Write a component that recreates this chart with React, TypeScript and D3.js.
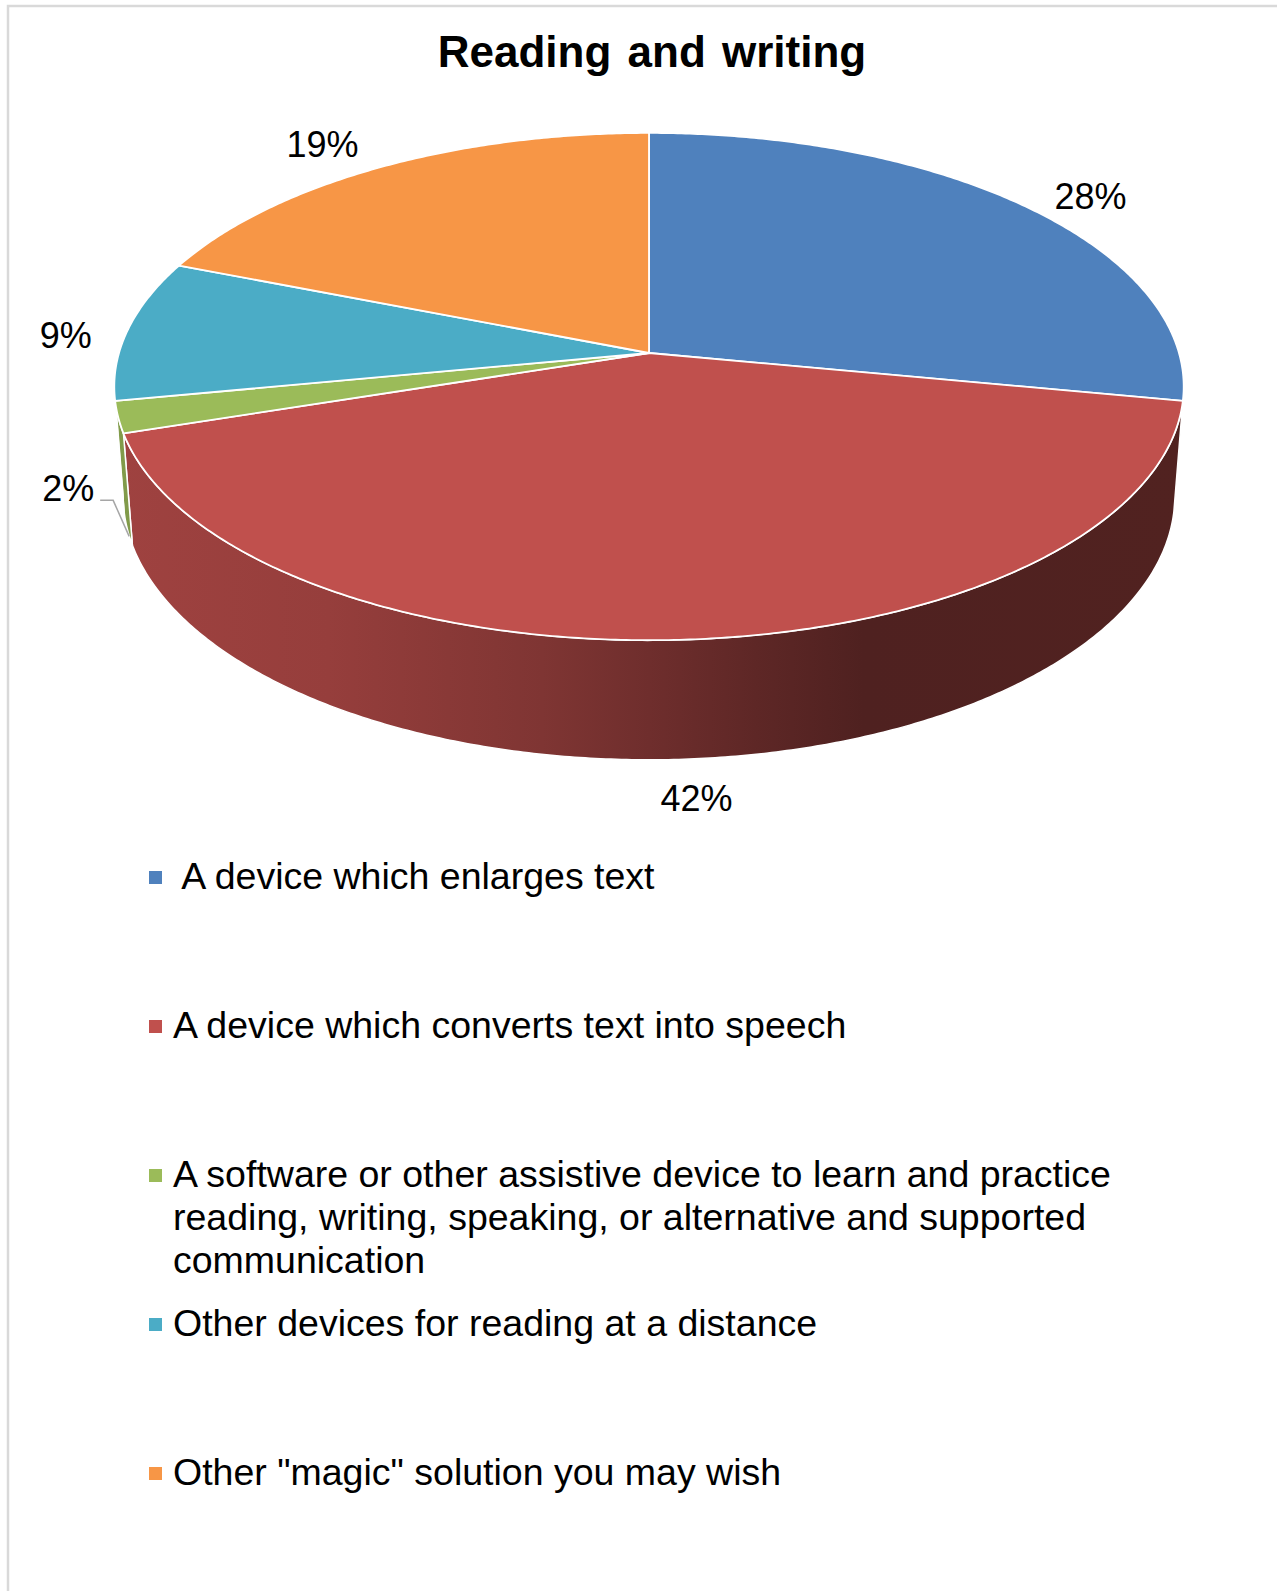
import React from "react";
import * as d3 from "d3";

// ---------- data ----------
const title = "Reading and writing";
const categories = [
  " A device which enlarges text",
  "A device which converts text into speech",
  "A software or other assistive device to learn and practice\nreading, writing, speaking, or alternative and supported\ncommunication",
  "Other devices for reading at a distance",
  'Other "magic" solution you may wish',
];
const values = [28, 42, 2, 9, 19];
const colors = ["#4F81BD", "#C0504D", "#9BBB59", "#4BACC6", "#F79646"];

// label nudges (layout only), relative to the projected rim anchor
const labelNudges: [number, number][] = [
  [65, 2],
  [10, 52],
  [-59, -27],
  [-62, 18],
  [-58, -10],
];
const leaderFor = [false, false, true, false, false];

// ---------- layout ----------
const W = 1277;
const H = 1591;
const cx = 649;
const cy = 353;
const S = 530;
const sinA = 0.4702;
const alpha = Math.asin(sinA);
const persp = 0.15;
const thick = 0.2363;
const FONT = "'Liberation Sans', Arial, Helvetica, sans-serif";

function project(phi: number, h: number): [number, number] {
  const u = Math.sin(phi);
  const v = -Math.cos(phi);
  const y = v * Math.sin(alpha) - h * Math.cos(alpha);
  const zn = 1 - persp * (v * Math.cos(alpha) + h * Math.sin(alpha));
  return [cx + (S * u) / zn, cy + (S * y) / zn];
}

function arcPts(a0: number, a1: number, h: number): [number, number][] {
  const n = Math.max(2, Math.ceil(Math.abs(a1 - a0) / (Math.PI / 360)));
  const pts: [number, number][] = [];
  for (let i = 0; i <= n; i++) pts.push(project(a0 + ((a1 - a0) * i) / n, h));
  return pts;
}

// silhouette angles
function silhouette(): [number, number] {
  let best = -Infinity, phiR = Math.PI / 2;
  let worst = Infinity, phiL = (3 * Math.PI) / 2;
  for (let i = 0; i <= 3600; i++) {
    const p = (i / 3600) * 2 * Math.PI;
    const [x] = project(p, 0);
    if (x > best) { best = x; phiR = p; }
    if (x < worst) { worst = x; phiL = p; }
  }
  return [phiR, phiL];
}

const lineGen = d3.line<[number, number]>().x((d) => d[0]).y((d) => d[1]);

function shade(c: string, k: number) {
  const r = d3.rgb(c);
  return d3.rgb(r.r * k, r.g * k, r.b * k).formatHex();
}

const shadeStops: [number, number][] = [
  [0, 0.83],
  [0.2, 0.78],
  [0.4, 0.66],
  [0.5, 0.58],
  [0.6, 0.49],
  [0.7, 0.41],
  [1, 0.42],
];

export default function App() {
  const arcs = d3.pie<number>().sort(null).value((d) => d)(values);
  const total = d3.sum(values);
  const [phiR, phiL] = silhouette();
  const xL = project(phiL, 0)[0];
  const xR = project(phiR, 0)[0];

  const walls = arcs
    .map((a, i) => {
      const a0 = Math.max(a.startAngle, phiR);
      const a1 = Math.min(a.endAngle, phiL);
      if (a1 <= a0) return null;
      const pts = [...arcPts(a0, a1, 0), ...arcPts(a1, a0, -thick)];
      return { i, d: lineGen(pts)! + "Z" };
    })
    .filter(Boolean) as { i: number; d: string }[];

  const tops = arcs.map((a, i) => {
    const pts = [[cx, cy] as [number, number], ...arcPts(a.startAngle, a.endAngle, 0)];
    return { i, d: lineGen(pts)! + "Z" };
  });

  const labels = arcs.map((a, i) => {
    const mid = (a.startAngle + a.endAngle) / 2;
    const front = Math.cos(mid) < -0.2 || leaderFor[i];
    const anchor = project(mid, front ? -thick : 0);
    const [dx, dy] = labelNudges[i];
    const pct = d3.format(".0%")(values[i] / total);
    return { i, anchor, x: anchor[0] + dx, y: anchor[1] + dy, text: pct };
  });

  const legendX = 149;
  const legendTop = 889;
  const legendStep = 149;
  const lineH = 43;

  return (
    <svg
      width={W}
      height={H}
      style={{ position: "absolute", left: 0, top: 0, background: "#fff" }}
      fontFamily={FONT}
    >
      <defs>
        {colors.map((c, i) => (
          <linearGradient
            key={i}
            id={`wall${i}`}
            gradientUnits="userSpaceOnUse"
            x1={xL}
            x2={xR}
            y1={0}
            y2={0}
          >
            {shadeStops.map(([o, k], j) => (
              <stop key={j} offset={o} stopColor={shade(c, k)} />
            ))}
          </linearGradient>
        ))}
      </defs>
      <rect x={0} y={0} width={W} height={H} fill="#fff" />
      <rect x={8} y={6} width={W + 20} height={H + 20} fill="#fff" stroke="#d9d9d9" strokeWidth={2.5} />

      <text x={652} y={67} textAnchor="middle" fontSize={44} fontWeight="bold" fill="#000" wordSpacing={4}>
        {title}
      </text>

      {walls.map((w) => (
        <path key={`w${w.i}`} d={w.d} fill={`url(#wall${w.i})`} stroke="#fff" strokeWidth={1.5} strokeLinejoin="round" />
      ))}
      {tops.map((t) => (
        <path key={`t${t.i}`} d={t.d} fill={colors[t.i]} stroke="#fff" strokeWidth={1.8} strokeLinejoin="round" />
      ))}

      {labels.map((l) => (
        <g key={`l${l.i}`}>
          {leaderFor[l.i] && (
            <polyline
              points={`${l.x + 32},${l.y - 1} ${l.x + 45},${l.y - 1} ${l.anchor[0] + 2},${l.anchor[1] + 8}`}
              fill="none"
              stroke="#a6a6a6"
              strokeWidth={1.5}
            />
          )}
          <text x={l.x} y={l.y} textAnchor="middle" fontSize={36} fill="#000">
            {l.text}
          </text>
        </g>
      ))}

      {categories.map((c, i) => {
        const base = legendTop + i * legendStep;
        const lines = c.split("\n");
        return (
          <g key={`lg${i}`}>
            <rect x={legendX} y={base - 18} width={13} height={13} fill={colors[i]} />
            <text x={legendX + 24} y={base} fontSize={37.5} fill="#000" style={{ whiteSpace: "pre" }}>
              {lines.map((ln, j) => (
                <tspan key={j} x={legendX + 24} y={base + j * lineH}>
                  {ln}
                </tspan>
              ))}
            </text>
          </g>
        );
      })}
    </svg>
  );
}
